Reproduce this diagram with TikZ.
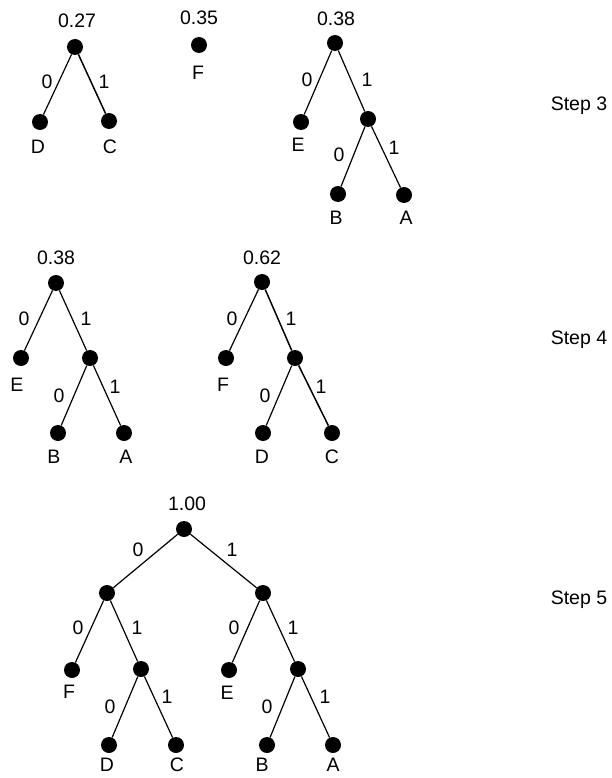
\documentclass[tikz,border=0pt]{standalone}
\usepackage{fontspec}
\setmainfont{Liberation Sans}
\begin{document}
\begin{tikzpicture}[x=1pt,y=-1pt,
  dot/.style={circle,fill=black,draw=none,minimum size=16pt,inner sep=0pt},
  txt/.style={inner sep=0pt,font=\fontsize{19.5}{22}\selectfont},
  edge/.style={line width=1.2pt},
  thk/.style={line width=1.5pt}]
\useasboundingbox (0,0) rectangle (611,778);

% ---------- Step 3 ----------
% tree 0.27
\node[dot] (a3r) at (75,47) {};
\node[dot] (a3d) at (40,122) {};
\node[dot] (a3c) at (109,121) {};
\draw[edge] (a3r) -- (a3d);
\draw[thk] (a3r) -- (a3c);
\node[txt] (a3rl) at (77,21) {0.27};
\node[txt] (a3dl) at (38,147) {D};
\node[txt] (a3cl) at (110,147) {C};
\node[txt] (a3e0) at (47,82) {0};
\node[txt] (a3e1) at (104,82) {1};
% F
\node[dot] (f3) at (199,45) {};
\node[txt] (f3v) at (199,18) {0.35};
\node[txt] (f3l) at (198,73) {F};
% tree 0.38
\node[dot] (b3r) at (335,43) {};
\node[dot] (b3e) at (301,122) {};
\node[dot] (b3i) at (368,119) {};
\node[dot] (b3b) at (338,194) {};
\node[dot] (b3a) at (404,195) {};
\draw[edge] (b3r) -- (b3e);
\draw[edge] (b3r) -- (b3i);
\draw[edge] (b3i) -- (b3b);
\draw[edge] (b3i) -- (b3a);
\node[txt] (b3rl) at (336,19) {0.38};
\node[txt] (b3el) at (298,145) {E};
\node[txt] (b3bl) at (336,218) {B};
\node[txt] (b3al) at (406,218) {A};
\node[txt] (b3e0) at (307,80) {0};
\node[txt] (b3e1) at (367,80) {1};
\node[txt] (b3e2) at (339,155) {0};
\node[txt] (b3e3) at (394,148) {1};
\node[txt] (s3) at (579,105.5) {Step 3};

% ---------- Step 4 ----------
% tree 0.38
\node[dot] (b4r) at (56,283) {};
\node[dot] (b4e) at (21,358) {};
\node[dot] (b4i) at (90,358) {};
\node[dot] (b4b) at (58,433) {};
\node[dot] (b4a) at (124,433) {};
\draw[edge] (b4r) -- (b4e);
\draw[edge] (b4r) -- (b4i);
\draw[edge] (b4i) -- (b4b);
\draw[edge] (b4i) -- (b4a);
\node[txt] (b4rl) at (56,258) {0.38};
\node[txt] (b4el) at (17,385) {E};
\node[txt] (b4bl) at (54,457) {B};
\node[txt] (b4al) at (126,457) {A};
\node[txt] (b4e0) at (24,319) {0};
\node[txt] (b4e1) at (86,319) {1};
\node[txt] (b4e2) at (59,396) {0};
\node[txt] (b4e3) at (115,387) {1};
% tree 0.62
\node[dot] (c4r) at (262,282) {};
\node[dot] (c4f) at (226,358) {};
\node[dot] (c4i) at (295,358) {};
\node[dot] (c4d) at (263,433) {};
\node[dot] (c4c) at (332,433) {};
\draw[edge] (c4r) -- (c4f);
\draw[thk] (c4r) -- (c4i);
\draw[edge] (c4i) -- (c4d);
\draw[thk] (c4i) -- (c4c);
\node[txt] (c4rl) at (262,258) {0.62};
\node[txt] (c4fl) at (223,385) {F};
\node[txt] (c4dl) at (262,457) {D};
\node[txt] (c4cl) at (332,457) {C};
\node[txt] (c4e0) at (232,319) {0};
\node[txt] (c4e1) at (291,319) {1};
\node[txt] (c4e2) at (265,396) {0};
\node[txt] (c4e3) at (321,387) {1};
\node[txt] (s4) at (579,339.5) {Step 4};

% ---------- Step 5 ----------
\node[dot] (r5) at (184,529) {};
\node[dot] (l5) at (107,593) {};
\node[dot] (n5) at (263,593) {};
\node[dot] (f5) at (72,670) {};
\node[dot] (li5) at (141,669) {};
\node[dot] (e5) at (229,670) {};
\node[dot] (ri5) at (298,669) {};
\node[dot] (d5) at (109,745) {};
\node[dot] (c5) at (176,745) {};
\node[dot] (b5) at (267,745) {};
\node[dot] (a5) at (333,745) {};
\draw[edge] (r5) -- (l5);
\draw[edge] (r5) -- (n5);
\draw[edge] (l5) -- (f5);
\draw[edge] (l5) -- (li5);
\draw[edge] (n5) -- (e5);
\draw[edge] (n5) -- (ri5);
\draw[edge] (li5) -- (d5);
\draw[edge] (li5) -- (c5);
\draw[edge] (ri5) -- (b5);
\draw[edge] (ri5) -- (a5);
\node[txt] (r5l) at (187,504) {1.00};
\node[txt] (f5l) at (69,692) {F};
\node[txt] (e5l) at (227,693) {E};
\node[txt] (d5l) at (107,765) {D};
\node[txt] (c5l) at (177,765) {C};
\node[txt] (b5l) at (262,765) {B};
\node[txt] (a5l) at (333,765) {A};
\node[txt] (q0) at (138,550) {0};
\node[txt] (q1) at (232,550) {1};
\node[txt] (q2) at (78,628) {0};
\node[txt] (q3) at (137,628) {1};
\node[txt] (q4) at (234,628) {0};
\node[txt] (q5) at (293,628) {1};
\node[txt] (q6) at (110,707) {0};
\node[txt] (q7) at (167,697) {1};
\node[txt] (q8) at (267,707) {0};
\node[txt] (q9) at (325,697) {1};
\node[txt] (s5) at (579,599.5) {Step 5};
\end{tikzpicture}
\end{document}
